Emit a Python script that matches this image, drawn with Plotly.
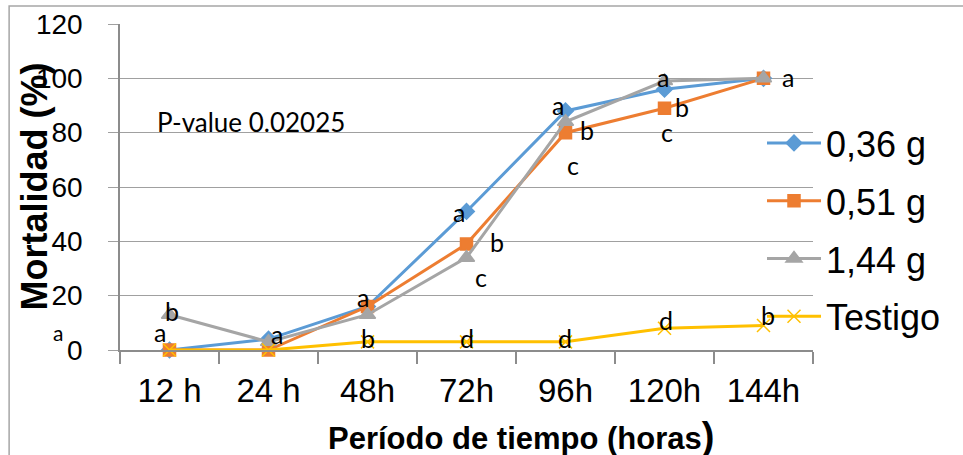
import plotly.graph_objects as go

categories = ["12 h", "24 h", "48h", "72h", "96h", "120h", "144h"]
dose_036 = [0, 4, 16, 51, 88, 96, 100]
dose_051 = [0, 0, 16, 39, 80, 89, 100]
dose_144 = [13, 3, 13, 34, 84, 99, 100]
testigo = [0, 0, 3, 3, 3, 8, 9]
series_names = ["0,36 g", "0,51 g", "1,44 g", "Testigo"]
y_ticks = [0, 20, 40, 60, 80, 100, 120]

# significance letters: (category, letter, y-position in data units, x shift px)
sig_labels = [
    ("12 h", "a", 6.6, -9.5), ("12 h", "b", 14.4, 2.5),
    ("24 h", "a", 5.9, 8.5),
    ("48h", "a", 19.5, -4.5), ("48h", "b", 4.4, 0.5),
    ("72h", "a", 50.8, -7.5), ("72h", "b", 39.7, 30.5), ("72h", "c", 26.9, 14.5), ("72h", "d", 4.4, 0.5),
    ("96h", "a", 90.2, -7.5), ("96h", "b", 81.0, 21.5), ("96h", "c", 68.1, 7.5), ("96h", "d", 4.4, -0.5),
    ("120h", "a", 100.5, -1.5), ("120h", "b", 89.4, 17.5), ("120h", "c", 80.2, 2.5), ("120h", "d", 11.0, 1.5),
    ("144h", "a", 100.5, 24.5), ("144h", "b", 12.9, 4.5),
]

colors = ["#5B9BD5", "#ED7D31", "#A5A5A5", "#FFC000"]
symbols = ["diamond", "square", "triangle-up", "x-thin-open"]
sizes = [12, 12, 14, 13]
all_series = [dose_036, dose_051, dose_144, testigo]

fig = go.Figure()
for name, vals, c, s, sz in zip(series_names, all_series, colors, symbols, sizes):
    fig.add_trace(go.Scatter(
        x=categories, y=vals, name=name, legendgroup=name, mode="lines+markers",
        line=dict(color=c, width=3),
        marker=dict(symbol=s, size=sz, color=c, line=dict(color=c, width=1.5)),
        cliponaxis=False,
    ))

lab_font = dict(family="Lato, Carlito, sans-serif", size=25, color="#000")
ann = []
for cat, letter, yv, xs in sig_labels:
    ann.append(dict(x=cat, y=yv, xref="x", yref="y", text=letter, showarrow=False,
                    xshift=xs, font=lab_font, xanchor="center", yanchor="middle"))
# stray letter outside the plot at left
ann.append(dict(x="12 h", y=6.6, xref="x", yref="y", text="a", showarrow=False,
                xshift=-111.5, xanchor="center", yanchor="middle",
                font=dict(family="Lato, sans-serif", size=21, color="#000")))
ann.append(dict(x=0.0505, y=0.7, xref="paper", yref="paper", text="P-value 0.02025",
                showarrow=False, xanchor="left", yanchor="middle",
                font=dict(family="Lato, Carlito, sans-serif", size=26, color="#000")))
ann.append(dict(x=-0.1234, y=0.503, xref="paper", yref="paper", text="Mortalidad (%)",
                textangle=-90, showarrow=False, xanchor="center", yanchor="middle",
                font=dict(family="Arial, Liberation Sans, sans-serif", size=36, color="#000", weight="bold")))
ann.append(dict(x=0.5786, y=-0.2638, xref="paper", yref="paper",
                text="Período de tiempo (horas<span style='font-size:38px'>)</span>",
                showarrow=False, xanchor="center", yanchor="middle",
                font=dict(family="Arial, Liberation Sans, sans-serif", size=31, color="#000", weight="bold")))

fig.update_layout(
    width=963, height=455,
    margin=dict(l=120, r=150, t=24, b=105, autoexpand=False),
    paper_bgcolor="white", plot_bgcolor="white",
    showlegend=True,
    legend=dict(x=762 / 963, y=1 - 230 / 455, xref="container", yref="container",
                xanchor="left", yanchor="middle", maxheight=1000,
                font=dict(family="Arial, Liberation Sans, sans-serif", size=36, color="#000"),
                traceorder="grouped", tracegroupgap=8, itemwidth=54,
                bgcolor="rgba(0,0,0,0)"),
    annotations=ann,
    shapes=[dict(type="rect", xref="paper", yref="paper", x0=-0.160, y0=-0.8, x1=1.6, y1=1.055,
                 line=dict(color="#a6a6a6", width=1.5), layer="below")],
)
fig.update_xaxes(
    type="category", categoryorder="array", categoryarray=categories,
    range=[-0.5, 6.5], showgrid=False, showline=True, linecolor="#8c8c8c", linewidth=1.5,
    ticks="outside", tickson="boundaries", ticklen=12, tickcolor="#8c8c8c", tickwidth=1.5,
    ticklabelstandoff=11, automargin=False,
    tickfont=dict(family="Arial, Liberation Sans, sans-serif", size=33, color="#000"),
)
fig.update_yaxes(
    range=[0, 120], tickvals=y_ticks, showgrid=True, gridcolor="#a0a0a0", gridwidth=1.3,
    showline=True, linecolor="#8c8c8c", linewidth=1.5,
    ticks="outside", ticklen=10, tickcolor="#a0a0a0", tickwidth=1.3,
    ticklabelstandoff=20, zeroline=False, automargin=False,
    tickfont=dict(family="Arial, Liberation Sans, sans-serif", size=28, color="#000"),
)
fig.write_html("out.html", config={"displayModeBar": False},
               post_script="document.body.style.margin='0px';document.body.style.overflow='hidden';")
